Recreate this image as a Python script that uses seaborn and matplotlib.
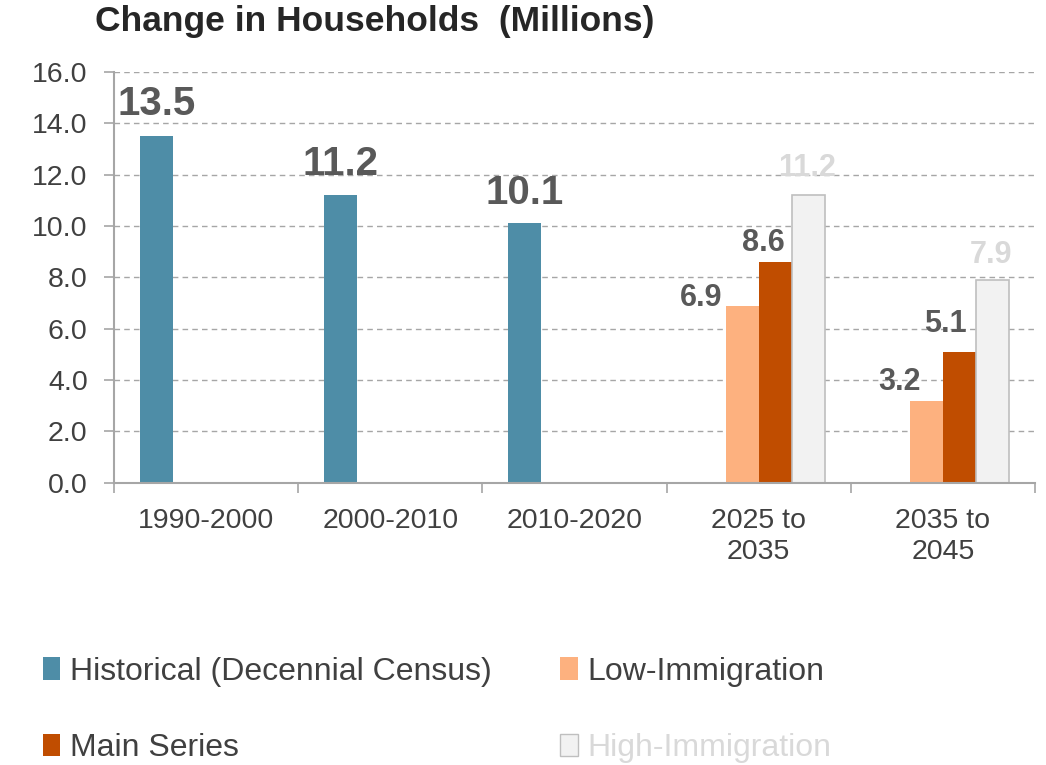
import matplotlib
matplotlib.use("Agg")
import matplotlib.pyplot as plt
from matplotlib.patches import Patch
from matplotlib.ticker import MultipleLocator, FixedLocator
import seaborn as sns
import pandas as pd

# ---- data -------------------------------------------------------------
periods = ["1990-2000", "2000-2010", "2010-2020", "2025 to\n2035", "2035 to\n2045"]
series = ["Historical (Decennial Census)", "Low-Immigration", "Main Series", "High-Immigration"]

historical = [13.5, 11.2, 10.1]          # 1990-2000, 2000-2010, 2010-2020
low_immigration = [6.9, 3.2]             # 2025-2035, 2035-2045
main_series = [8.6, 5.1]
high_immigration = [11.2, 7.9]

title = "Change in Households  (Millions)"

# ---- long-form table --------------------------------------------------
rows = []
for p, v in zip(periods[:3], historical):
    rows.append((p, series[0], v))
for vals, s in [(low_immigration, series[1]), (main_series, series[2]), (high_immigration, series[3])]:
    for p, v in zip(periods[3:], vals):
        rows.append((p, s, v))
df = pd.DataFrame(rows, columns=["period", "series", "value"])

# ---- style ------------------------------------------------------------
sns.set_theme(style="white")
plt.rcParams["font.family"] = ["Liberation Sans", "DejaVu Sans"]

colors = {
    series[0]: "#4E8DA7",
    series[1]: "#FDB17F",
    series[2]: "#C04D00",
    series[3]: "#F2F2F2",
}
label_colors = {
    series[0]: "#595959",
    series[1]: "#595959",
    series[2]: "#595959",
    series[3]: "#D9D9D9",
}
label_sizes = {series[0]: 29, series[1]: 22, series[2]: 22, series[3]: 22}
axis_gray = "#A6A6A6"
text_dark = "#404040"

fig = plt.figure(figsize=(10.46, 7.65), dpi=100)
ax = fig.add_axes([0.109, 0.369, 0.8805, 0.537])

sns.barplot(
    data=df, x="period", y="value", hue="series",
    order=periods, hue_order=series, palette=colors,
    width=0.717, dodge=True, errorbar=None, legend=False,
    saturation=1, linewidth=0, ax=ax,
)

# outline on the light bars
for bar in ax.containers[3]:
    bar.set_edgecolor("#BFBFBF")
    bar.set_linewidth(1.2)

# value labels: (dx, dy) offsets in pixels per bar
px = 0.72
offsets = {
    series[0]: [(0, 21), (0, 20), (0, 19)],
    series[1]: [(-41, 0), (-27, 11)],
    series[2]: [(-12, 11), (-14, 20)],
    series[3]: [(-1, 19), (-1, 17)],
}
for s, cont in zip(series, ax.containers):
    for bar, (dx, dy) in zip(cont, offsets[s]):
        h = bar.get_height()
        ax.annotate(
            f"{h:.1f}",
            xy=(bar.get_x() + bar.get_width() / 2, h),
            xytext=(dx * px, dy * px), textcoords="offset points",
            ha="center", va="baseline",
            fontsize=label_sizes[s], fontweight="bold", color=label_colors[s],
        )

# ---- axes -------------------------------------------------------------
ax.set_ylim(0, 16)
ax.set_xlim(-0.5, len(periods) - 0.5)
ax.yaxis.set_major_locator(MultipleLocator(2))
ax.set_yticklabels([f"{t:.1f}" for t in ax.get_yticks()])
ax.yaxis.grid(True, color=axis_gray, linestyle=(0, (4, 3)), linewidth=1.0)
ax.set_axisbelow(True)
ax.set_xlabel("")
ax.set_ylabel("")

for side in ["top", "right"]:
    ax.spines[side].set_visible(False)
for side in ["left", "bottom"]:
    ax.spines[side].set_color(axis_gray)
    ax.spines[side].set_linewidth(1.5)

ax.tick_params(axis="y", which="major", direction="out", length=7, width=1.2,
               color=axis_gray, labelsize=20.5, labelcolor=text_dark, pad=12, left=True)
ax.tick_params(axis="x", which="major", length=0, labelsize=20.5, labelcolor=text_dark, pad=18)
for lbl in ax.get_xticklabels():
    lbl.set_linespacing(1.25)
ax.xaxis.set_minor_locator(FixedLocator([i - 0.5 for i in range(len(periods) + 1)]))
ax.tick_params(axis="x", which="minor", direction="out", length=7, width=1.2,
               color=axis_gray, bottom=True)

fig.text(95 / 1046, 1 - 22 / 765, title, fontsize=25.5, fontweight="bold",
         color="#262626", ha="left", va="center")

# ---- legend -----------------------------------------------------------
handles = [
    Patch(facecolor=colors[series[0]], edgecolor="none"),
    Patch(facecolor=colors[series[2]], edgecolor="none"),
    Patch(facecolor=colors[series[1]], edgecolor="none"),
    Patch(facecolor=colors[series[3]], edgecolor="#BFBFBF", linewidth=1),
]
names = [series[0], series[2], series[1], series[3]]
leg = fig.legend(
    handles, names, ncol=2, loc="upper left",
    bbox_to_anchor=(30 / 1046, 1 - 644 / 765),
    frameon=False, fontsize=23, handlelength=0.55, handleheight=0.7,
    handletextpad=0.3, columnspacing=2.15, labelspacing=1.45, borderaxespad=0,
)
for txt, n in zip(leg.get_texts(), names):
    txt.set_color("#D9D9D9" if n == series[3] else text_dark)

fig.savefig("out.png", dpi=100)
